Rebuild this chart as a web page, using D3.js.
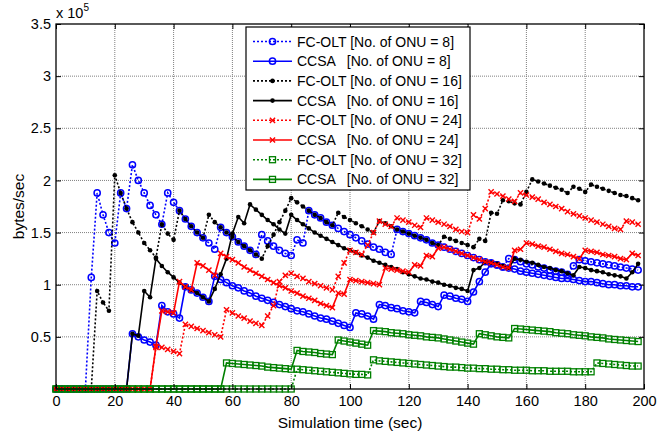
<!DOCTYPE html>
<html><head><meta charset="utf-8">
<script src="https://cdn.jsdelivr.net/npm/d3@7"></script>
<style>
body{margin:0;background:#fff;}
text{font-family:"Liberation Sans", Arial, sans-serif;}
</style></head><body>
<svg id="chart" width="672" height="435"></svg>
<script>
// ---------------- data (values in units of 1e5 bytes/sec) ----------------
const time = d3.range(0, 200, 2); // simulation time samples (sec)
const xTicks = [0, 20, 40, 60, 80, 100, 120, 140, 160, 180, 200];
const yTicks = [0.5, 1, 1.5, 2, 2.5, 3, 3.5];
const labels = [
  "FC-OLT [No. of ONU = 8]", "CCSA   [No. of ONU = 8]",
  "FC-OLT [No. of ONU = 16]", "CCSA   [No. of ONU = 16]",
  "FC-OLT [No. of ONU = 24]", "CCSA   [No. of ONU = 24]",
  "FC-OLT [No. of ONU = 32]", "CCSA   [No. of ONU = 32]"
];

const fcolt8 = [
  0, 0, 0, 0, 0, 0, 1.07, 1.88, 1.67, 1.50,
  1.40, 1.88, 1.73, 2.15, 2.00, 1.88, 1.76, 1.67, 1.58, 1.88,
  1.79, 1.71, 1.63, 1.56, 1.50, 1.45, 1.40, 1.34, 1.55, 1.50,
  1.46, 1.41, 1.37, 1.33, 1.29, 1.48, 1.42, 1.37, 1.33, 1.30,
  1.28, 1.43, 1.40, 1.71, 1.67, 1.64, 1.60, 1.57, 1.54, 1.51,
  1.48, 1.45, 1.42, 1.39, 1.36, 1.34, 1.31, 1.29, 1.53, 1.51,
  1.49, 1.47, 1.45, 1.43, 1.40, 1.38, 1.36, 1.34, 1.32, 1.30,
  1.28, 1.26, 1.24, 1.22, 1.21, 1.19, 1.17, 1.25, 1.24, 1.22,
  1.20, 1.19, 1.17, 1.16, 1.14, 1.13, 1.12, 1.10, 1.18, 1.24,
  1.23, 1.22, 1.21, 1.20, 1.19, 1.18, 1.17, 1.16, 1.15, 1.14
];
const ccsa8 = [
  0, 0, 0, 0, 0, 0, 0, 0, 0, 0,
  0, 0, 0, 0.53, 0.50, 0.47, 0.45, 0.42, 0.80, 0.74,
  0.72, 0.68, 0.98, 0.95, 0.92, 0.88, 0.84, 1.08, 1.05, 1.02,
  0.99, 0.97, 0.94, 0.92, 0.89, 0.87, 0.85, 0.83, 0.81, 0.79,
  0.77, 0.75, 0.74, 0.72, 0.70, 0.68, 0.67, 0.65, 0.63, 0.61,
  0.59, 0.73, 0.72, 0.70, 0.67, 0.81, 0.80, 0.78, 0.77, 0.75,
  0.74, 0.73, 0.84, 0.83, 0.81, 0.79, 0.90, 0.89, 0.87, 0.86,
  0.84, 0.93, 1.03, 1.12, 1.20, 1.19, 1.17, 1.16, 1.15, 1.13,
  1.12, 1.11, 1.10, 1.09, 1.08, 1.07, 1.06, 1.06, 1.05, 1.04,
  1.03, 1.03, 1.02, 1.01, 1.00, 1.00, 0.99, 0.99, 0.98, 0.98
];
const fcolt16 = [
  0, 0, 0, 0, 0, 0, 0, 0.94, 0.83, 0.75,
  2.05, 1.88, 1.73, 1.60, 1.50, 1.40, 1.33, 1.26, 1.58, 1.49,
  1.43, 1.71, 1.63, 1.56, 1.50, 1.45, 1.67, 1.60, 1.55, 1.50,
  1.46, 1.41, 1.37, 1.33, 1.29, 1.25, 1.37, 1.48, 1.60, 1.71,
  1.83, 1.79, 1.75, 1.71, 1.67, 1.64, 1.60, 1.57, 1.69, 1.65,
  1.62, 1.59, 1.56, 1.53, 1.50, 1.61, 1.59, 1.56, 1.53, 1.51,
  1.49, 1.47, 1.45, 1.43, 1.40, 1.38, 1.46, 1.44, 1.42, 1.40,
  1.38, 1.36, 1.44, 1.42, 1.69, 1.68, 1.81, 1.80, 1.78, 1.77,
  1.89, 2.01, 1.99, 1.97, 1.95, 1.93, 1.91, 1.88, 1.94, 1.92,
  1.89, 1.96, 1.94, 1.92, 1.90, 1.88, 1.86, 1.85, 1.83, 1.81
];
const ccsa16 = [
  0, 0, 0, 0, 0, 0, 0, 0, 0, 0,
  0, 0, 0, 0.53, 0.51, 0.94, 0.88, 1.25, 1.18, 1.12,
  1.07, 1.02, 0.98, 0.95, 0.92, 0.88, 0.84, 0.96, 1.10, 1.25,
  1.49, 1.65, 1.59, 1.77, 1.72, 1.67, 1.62, 1.58, 1.53, 1.49,
  1.67, 1.62, 1.58, 1.54, 1.50, 1.47, 1.44, 1.41, 1.38, 1.35,
  1.33, 1.31, 1.28, 1.26, 1.23, 1.21, 1.19, 1.17, 1.15, 1.12,
  1.10, 1.08, 1.06, 1.05, 1.03, 1.02, 1.00, 0.99, 0.97, 0.96,
  0.94, 1.14, 1.16, 1.22, 1.21, 1.20, 1.18, 1.16, 1.25, 1.24,
  1.22, 1.21, 1.19, 1.17, 1.16, 1.14, 1.13, 1.11, 1.09, 1.17,
  1.16, 1.14, 1.13, 1.12, 1.10, 1.09, 1.08, 1.06, 1.12, 1.20
];
const fcolt24 = [
  0, 0, 0, 0, 0, 0, 0, 0, 0, 0,
  0, 0, 0, 0, 0, 0, 0, 0.40, 0.40, 0.38,
  0.36, 0.34, 0.62, 0.60, 0.58, 0.56, 0.54, 0.52, 0.50, 0.76,
  0.73, 0.70, 0.68, 0.65, 0.63, 0.61, 0.70, 0.80, 1.03, 1.09,
  1.11, 1.08, 1.06, 1.03, 1.01, 0.99, 0.97, 0.95, 1.08, 1.21,
  1.33, 1.31, 1.29, 1.38, 1.50, 1.61, 1.58, 1.56, 1.64, 1.62,
  1.60, 1.57, 1.55, 1.64, 1.62, 1.60, 1.58, 1.56, 1.53, 1.51,
  1.50, 1.67, 1.63, 1.73, 1.89, 1.87, 1.85, 1.82, 1.80, 1.88,
  1.86, 1.84, 1.82, 1.79, 1.77, 1.75, 1.73, 1.70, 1.68, 1.66,
  1.64, 1.62, 1.60, 1.58, 1.56, 1.54, 1.53, 1.61, 1.60, 1.58
];
const ccsa24 = [
  0, 0, 0, 0, 0, 0, 0, 0, 0, 0,
  0, 0, 0, 0, 0, 0, 0, 0.41, 0.75, 0.74,
  0.73, 1.03, 0.98, 0.95, 1.21, 1.18, 1.14, 1.09, 1.30, 1.27,
  1.24, 1.21, 1.17, 1.14, 1.11, 1.08, 1.05, 1.02, 0.99, 0.97,
  0.94, 0.92, 0.89, 0.87, 0.85, 0.82, 0.80, 0.78, 0.92, 0.91,
  1.05, 1.04, 1.03, 1.02, 1.01, 1.00, 1.16, 1.15, 1.14, 1.13,
  1.12, 1.19, 1.18, 1.28, 1.27, 1.35, 1.36, 1.34, 1.32, 1.30,
  1.28, 1.26, 1.24, 1.22, 1.21, 1.19, 1.17, 1.16, 1.33, 1.34,
  1.40, 1.39, 1.37, 1.36, 1.34, 1.32, 1.30, 1.29, 1.27, 1.25,
  1.33, 1.32, 1.31, 1.29, 1.28, 1.27, 1.25, 1.24, 1.30, 1.28
];
const fcolt32 = [
  0, 0, 0, 0, 0, 0, 0, 0, 0, 0,
  0, 0, 0, 0, 0, 0, 0, 0, 0, 0,
  0, 0, 0, 0, 0, 0, 0, 0, 0, 0,
  0, 0, 0, 0, 0, 0, 0, 0, 0, 0,
  0, 0.19, 0.185, 0.18, 0.175, 0.17, 0.165, 0.16, 0.155, 0.15,
  0.145, 0.14, 0.14, 0.135, 0.28, 0.27, 0.265, 0.26, 0.255, 0.25,
  0.245, 0.24, 0.235, 0.23, 0.225, 0.22, 0.215, 0.21, 0.21, 0.205,
  0.20, 0.20, 0.195, 0.195, 0.19, 0.19, 0.185, 0.185, 0.18, 0.18,
  0.18, 0.175, 0.175, 0.175, 0.17, 0.17, 0.17, 0.17, 0.165, 0.165,
  0.165, 0.165, 0.25, 0.245, 0.24, 0.235, 0.23, 0.225, 0.22, 0.22
];
const ccsa32 = [
  0, 0, 0, 0, 0, 0, 0, 0, 0, 0,
  0, 0, 0, 0, 0, 0, 0, 0, 0, 0,
  0, 0, 0, 0, 0, 0, 0, 0, 0, 0.25,
  0.245, 0.24, 0.235, 0.23, 0.225, 0.22, 0.21, 0.205, 0.20, 0.195,
  0.19, 0.37, 0.36, 0.355, 0.35, 0.34, 0.335, 0.33, 0.47, 0.46,
  0.45, 0.44, 0.43, 0.42, 0.56, 0.555, 0.55, 0.54, 0.535, 0.53,
  0.52, 0.515, 0.51, 0.50, 0.495, 0.49, 0.48, 0.47, 0.46, 0.45,
  0.44, 0.43, 0.53, 0.52, 0.51, 0.50, 0.495, 0.49, 0.58, 0.575,
  0.57, 0.565, 0.56, 0.555, 0.55, 0.54, 0.535, 0.53, 0.52, 0.515,
  0.51, 0.50, 0.495, 0.49, 0.48, 0.475, 0.47, 0.465, 0.46, 0.455
];

// ---------------- styles ----------------
const seriesValues = [fcolt8, ccsa8, fcolt16, ccsa16, fcolt24, ccsa24, fcolt32, ccsa32];
const styles = [
  {color:"#0000ff", dash:"2,2", marker:"circle"},
  {color:"#0000ff", dash:null,  marker:"circle"},
  {color:"#000000", dash:"2,2", marker:"dot"},
  {color:"#000000", dash:null,  marker:"dot"},
  {color:"#ff0000", dash:"2,2", marker:"cross"},
  {color:"#ff0000", dash:null,  marker:"cross"},
  {color:"#008000", dash:"2,2", marker:"square"},
  {color:"#008000", dash:null,  marker:"square"}
];

const W = 672, H = 435;
const xs = d3.scaleLinear().domain([0, 200]).range([56, 644]);
const ys = d3.scaleLinear().domain([0, 3.5]).range([389, 24]);
const svg = d3.select("#chart");
svg.append("rect").attr("width", W).attr("height", H).attr("fill", "#fff");

// grid
const grid = svg.append("g");
grid.selectAll("line.gx").data(xTicks.slice(1, -1)).join("line")
  .attr("x1", d => xs(d)).attr("x2", d => xs(d)).attr("y1", ys(0)).attr("y2", ys(3.5))
  .attr("stroke", "#808080").attr("stroke-width", 1).attr("stroke-dasharray", "1,1");
grid.selectAll("line.gy").data(yTicks.slice(0, -1)).join("line")
  .attr("y1", d => ys(d)).attr("y2", d => ys(d)).attr("x1", xs(0)).attr("x2", xs(200))
  .attr("stroke", "#808080").attr("stroke-width", 1).attr("stroke-dasharray", "1,1");

// series
const plotG = svg.append("g");
function drawMarker(sel, kind, color) {
  if (kind === "circle") {
    sel.append("circle").attr("r", 3.1).attr("fill", "none").attr("stroke", color).attr("stroke-width", 1.5);
  } else if (kind === "dot") {
    sel.append("circle").attr("r", 2.3).attr("fill", color);
  } else if (kind === "cross") {
    sel.append("path").attr("d", "M-2.6,-2.6L2.6,2.6M-2.6,2.6L2.6,-2.6").attr("stroke", color).attr("stroke-width", 1.4).attr("fill", "none");
  } else if (kind === "square") {
    sel.append("rect").attr("x", -3).attr("y", -3).attr("width", 6).attr("height", 6).attr("fill", "none").attr("stroke", color).attr("stroke-width", 1.3);
  }
}
const lineGen = d3.line().x((d, i) => xs(time[i])).y(d => ys(d));
seriesValues.forEach((vals, k) => {
  const st = styles[k];
  const gS = plotG.append("g");
  gS.append("path").attr("d", lineGen(vals)).attr("fill", "none")
    .attr("stroke", st.color).attr("stroke-width", 1.6)
    .attr("stroke-dasharray", st.dash);
  gS.selectAll("g.m").data(vals).join("g")
    .attr("transform", (d, i) => `translate(${xs(time[i])},${ys(d)})`)
    .each(function() { drawMarker(d3.select(this), st.marker, st.color); });
});

// axes box and ticks
const ax = svg.append("g");
ax.append("g").attr("transform", `translate(0,${ys(0)})`)
  .call(d3.axisBottom(xs).tickValues(xTicks).tickSizeInner(-5).tickSizeOuter(0).tickPadding(7));
ax.append("g").attr("transform", `translate(${xs(0)},0)`)
  .call(d3.axisLeft(ys).tickValues(yTicks).tickSizeInner(-5).tickSizeOuter(0).tickPadding(5).tickFormat(d3.format("")));
ax.append("g").attr("transform", `translate(0,${ys(3.5)})`)
  .call(d3.axisTop(xs).tickValues(xTicks).tickSizeInner(-5).tickSizeOuter(0).tickFormat(""));
ax.append("g").attr("transform", `translate(${xs(200)},0)`)
  .call(d3.axisRight(ys).tickValues(yTicks).tickSizeInner(-5).tickSizeOuter(0).tickFormat(""));
ax.selectAll(".domain").remove();
ax.selectAll(".tick line").attr("stroke", "#000").attr("stroke-width", 1);
ax.selectAll(".tick text").attr("font-size", 14.5).attr("fill", "#000")
  .attr("font-family", "'Liberation Sans', Arial, sans-serif");
svg.append("rect").attr("x", xs(0)).attr("y", ys(3.5)).attr("width", xs(200) - xs(0)).attr("height", ys(0) - ys(3.5))
  .attr("fill", "none").attr("stroke", "#000").attr("stroke-width", 1.3);

// exponent label
const expo = svg.append("text").attr("x", 56).attr("y", 18).attr("font-size", 14.5);
expo.append("tspan").text("x 10");
expo.append("tspan").attr("font-size", 10).attr("dy", -7).text("5");

// axis labels
svg.append("text").attr("x", (xs(0) + xs(200)) / 2).attr("y", 428).attr("text-anchor", "middle")
  .attr("font-size", 15.5).text("Simulation time (sec)");
svg.append("text").attr("transform", `translate(24,${(ys(0) + ys(3.5)) / 2}) rotate(-90)`)
  .attr("text-anchor", "middle").attr("font-size", 15.5).text("bytes/sec");

// legend
const lg = svg.append("g");
lg.append("rect").attr("x", 246).attr("y", 27).attr("width", 224).attr("height", 163)
  .attr("fill", "#fff").attr("stroke", "#000").attr("stroke-width", 1.2);
labels.forEach((lab, k) => {
  const st = styles[k];
  const cy = 41.5 + k * 19.7;
  lg.append("line").attr("x1", 253).attr("x2", 292).attr("y1", cy).attr("y2", cy)
    .attr("stroke", st.color).attr("stroke-width", 1.6).attr("stroke-dasharray", st.dash);
  drawMarker(lg.append("g").attr("transform", `translate(272.5,${cy})`), st.marker, st.color);
  lg.append("text").attr("x", 297).attr("y", cy + 5).attr("font-size", 14)
    .style("white-space", "pre").text(lab);
});
</script>
</body></html>
